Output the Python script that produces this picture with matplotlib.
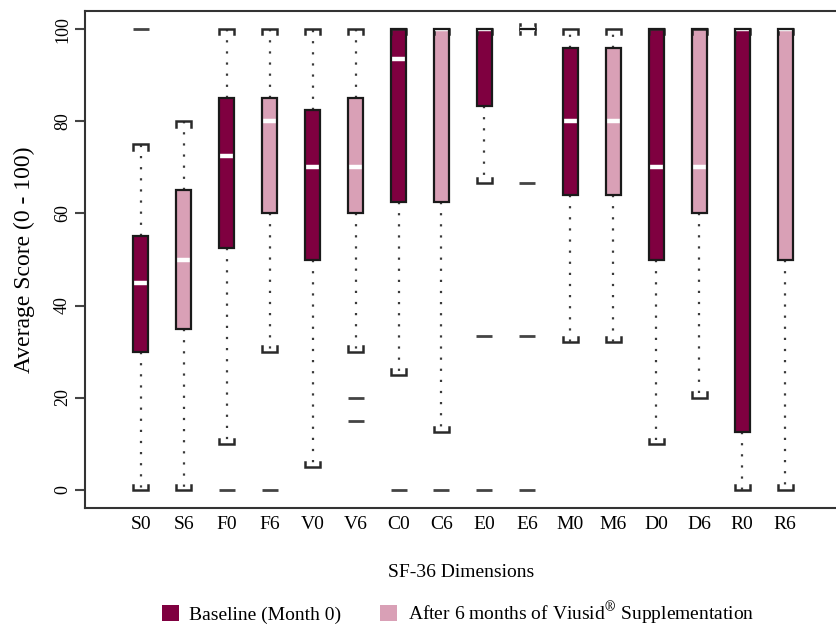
import matplotlib
matplotlib.use("Agg")
import matplotlib.pyplot as plt
from matplotlib.patches import Patch, PathPatch

plt.rcParams['font.family'] = ['Liberation Serif', 'DejaVu Serif']
plt.rcParams['mathtext.fontset'] = 'stix'

# SF-36 dimensions, month 0 and month 6
labels = ["S0", "S6", "F0", "F6", "V0", "V6", "C0", "C6",
          "E0", "E6", "M0", "M6", "D0", "D6", "R0", "R6"]
whis_lo = [0, 0, 10, 30, 5, 30, 25, 12.5, 66.7, 100, 32, 32, 10, 20, 0, 0]
q1 = [30, 35, 52.5, 60, 50, 60, 62.5, 62.5, 83.3, 100, 64, 64, 50, 60, 12.5, 50]
med = [45, 50, 72.5, 80, 70, 70, 93.5, 100, 100, 100, 80, 80, 70, 70, 100, 100]
q3 = [55, 65, 85, 85, 82.5, 85, 100, 100, 100, 100, 96, 96, 100, 100, 100, 100]
whis_hi = [75, 80, 100, 100, 100, 100, 100, 100, 100, 100, 100, 100, 100, 100, 100, 100]
outliers = [[100], [], [0], [0], [], [20, 15], [0], [0],
            [33.3, 0], [66.7, 33.3, 0], [], [], [], [], [], []]

dark = "#7f0040"
pink = "#d9a0b6"

stats = []
for i in range(len(labels)):
    stats.append(dict(label=labels[i], whislo=whis_lo[i], q1=q1[i], med=med[i],
                      q3=q3[i], whishi=whis_hi[i], fliers=outliers[i]))

pos = list(range(1, len(labels) + 1))
w = 0.35

fig = plt.figure(figsize=(8.37, 6.26), dpi=100)
ax = fig.add_axes([85 / 837, 1 - 508 / 626, 1 - 85 / 837, (508 - 11) / 626])

bp = ax.bxp(stats, positions=pos, widths=w, patch_artist=True, showcaps=False,
            boxprops=dict(edgecolor="none", linewidth=0),
            whiskerprops=dict(color="#3a3a3a", linewidth=1.6, linestyle=(0, (1, 4.0))),
            medianprops=dict(color="white", linewidth=3.2, zorder=4),
            flierprops=dict(marker="_", markersize=11, markeredgewidth=2,
                            markeredgecolor="#444444"))
for k, box in enumerate(bp['boxes']):
    box.set_facecolor(dark if k % 2 == 0 else pink)
    # outline on top of the median, like the original
    ax.add_patch(PathPatch(box.get_path(), fill=False, edgecolor="#1a1a1a",
                           linewidth=1.6, zorder=5))

# bracket shaped caps
hw = w / 2
t = 1.1
for p, lo, hi in zip(pos, whis_lo, whis_hi):
    ax.plot([p - hw, p - hw, p + hw, p + hw], [lo + t, lo, lo, lo + t],
            color="#2a2a2a", lw=1.8, zorder=3, solid_joinstyle="miter")
    ax.plot([p - hw, p - hw, p + hw, p + hw], [hi - t, hi, hi, hi - t],
            color="#2a2a2a", lw=1.8, zorder=3, solid_joinstyle="miter")

ax.set_xlim(-0.30, 17.21)
ax.set_ylim(-4, 104)
ax.set_xticks(pos)
ax.set_xticklabels(labels, fontsize=14)
ax.tick_params(axis="x", length=0, pad=6)
ax.set_yticks([0, 20, 40, 60, 80, 100])
ax.set_yticklabels(["0", "20", "40", "60", "80", "100"], fontsize=13,
                   rotation=90, va="center")
ax.tick_params(axis="y", length=7, width=1.5, color="#444444", pad=3)
for s in ["left", "top", "bottom"]:
    ax.spines[s].set_linewidth(1.5)
    ax.spines[s].set_color("#333333")
ax.spines["right"].set_visible(False)

ax.set_xlabel("SF-36 Dimensions", fontsize=14, labelpad=22)
ax.set_ylabel("Average Score (0 - 100)", fontsize=17, labelpad=14)

handles = [Patch(facecolor=dark, edgecolor="none"),
           Patch(facecolor=pink, edgecolor="none")]
fig.legend(handles, ["Baseline (Month 0)",
                     r"After 6 months of Viusid$^{\circledR}$ Supplementation"],
           loc="center", bbox_to_anchor=(458 / 837, 1 - 613 / 626), ncol=2,
           frameon=False, fontsize=14, handlelength=0.85, handleheight=0.85,
           handletextpad=0.55, columnspacing=2.0)

fig.savefig("out.png", dpi=100)
